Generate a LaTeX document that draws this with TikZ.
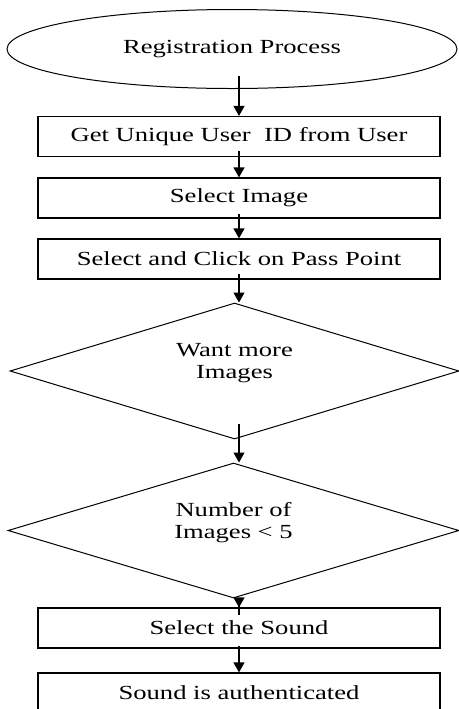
\documentclass[tikz,border=0pt]{standalone}
\usepackage{fontspec}
\setmainfont{Liberation Serif}[FakeStretch=1.33]
\usetikzlibrary{shapes.geometric,arrows.meta}

\tikzset{
  stepbox/.style={draw,line width=0.6pt,minimum width=201pt,minimum height=20pt,inner sep=0pt},
  startnode/.style={draw,ellipse,line width=0.5pt,inner sep=0pt},
  decision/.style={draw,diamond,aspect=3.3,line width=0.5pt,inner sep=0pt,align=center,text depth=10pt},
  arr/.style={-{Triangle[length=5pt,width=5.5pt]},line width=0.6pt}
}

\begin{document}
\begin{tikzpicture}[x=0.5pt,y=-0.5pt,font=\fontsize{10}{10.75}\selectfont]
    \useasboundingbox (0,0) rectangle (459,709);
    \node[startnode,minimum width=225pt,minimum height=39.5pt] (reg) at (232,49) {Registration Process};
    \node[stepbox] (uid) at (239,136.5) {Get Unique User\ \ ID from User};
    \node[stepbox] (img) at (239,198) {Select Image};
    \node[stepbox] (pass) at (239,259) {Select and Click on Pass Point};
    \node[decision,minimum width=224.5pt,minimum height=68pt] (more) at (234.5,371) {Want more\\Images};
    \node[decision,minimum width=225.5pt,minimum height=67.5pt] (count) at (233.5,530.5) {Number of\\Images < 5};
    \node[stepbox] (sound) at (239,628) {Select the Sound};
    \node[stepbox] (auth) at (239,693) {Sound is authenticated};
    \draw[arr,shorten <=-6.4pt] (reg.south -| uid) -- (uid);
    \draw[arr,shorten <=-3pt] (uid) -- (img);
    \draw[arr,shorten <=-2.5pt] (img) -- (pass);
    \draw[arr,shorten <=-3pt] (pass) -- (pass |- more.north);
    \draw[arr,shorten <=-8pt] (more.south -| uid) -- (uid |- count.north);
    \draw[arr,shorten <=-8pt] (count.south -| uid) -- (sound);
    \draw[arr,shorten <=-1.5pt] (sound) -- (auth);
\end{tikzpicture}
\end{document}
